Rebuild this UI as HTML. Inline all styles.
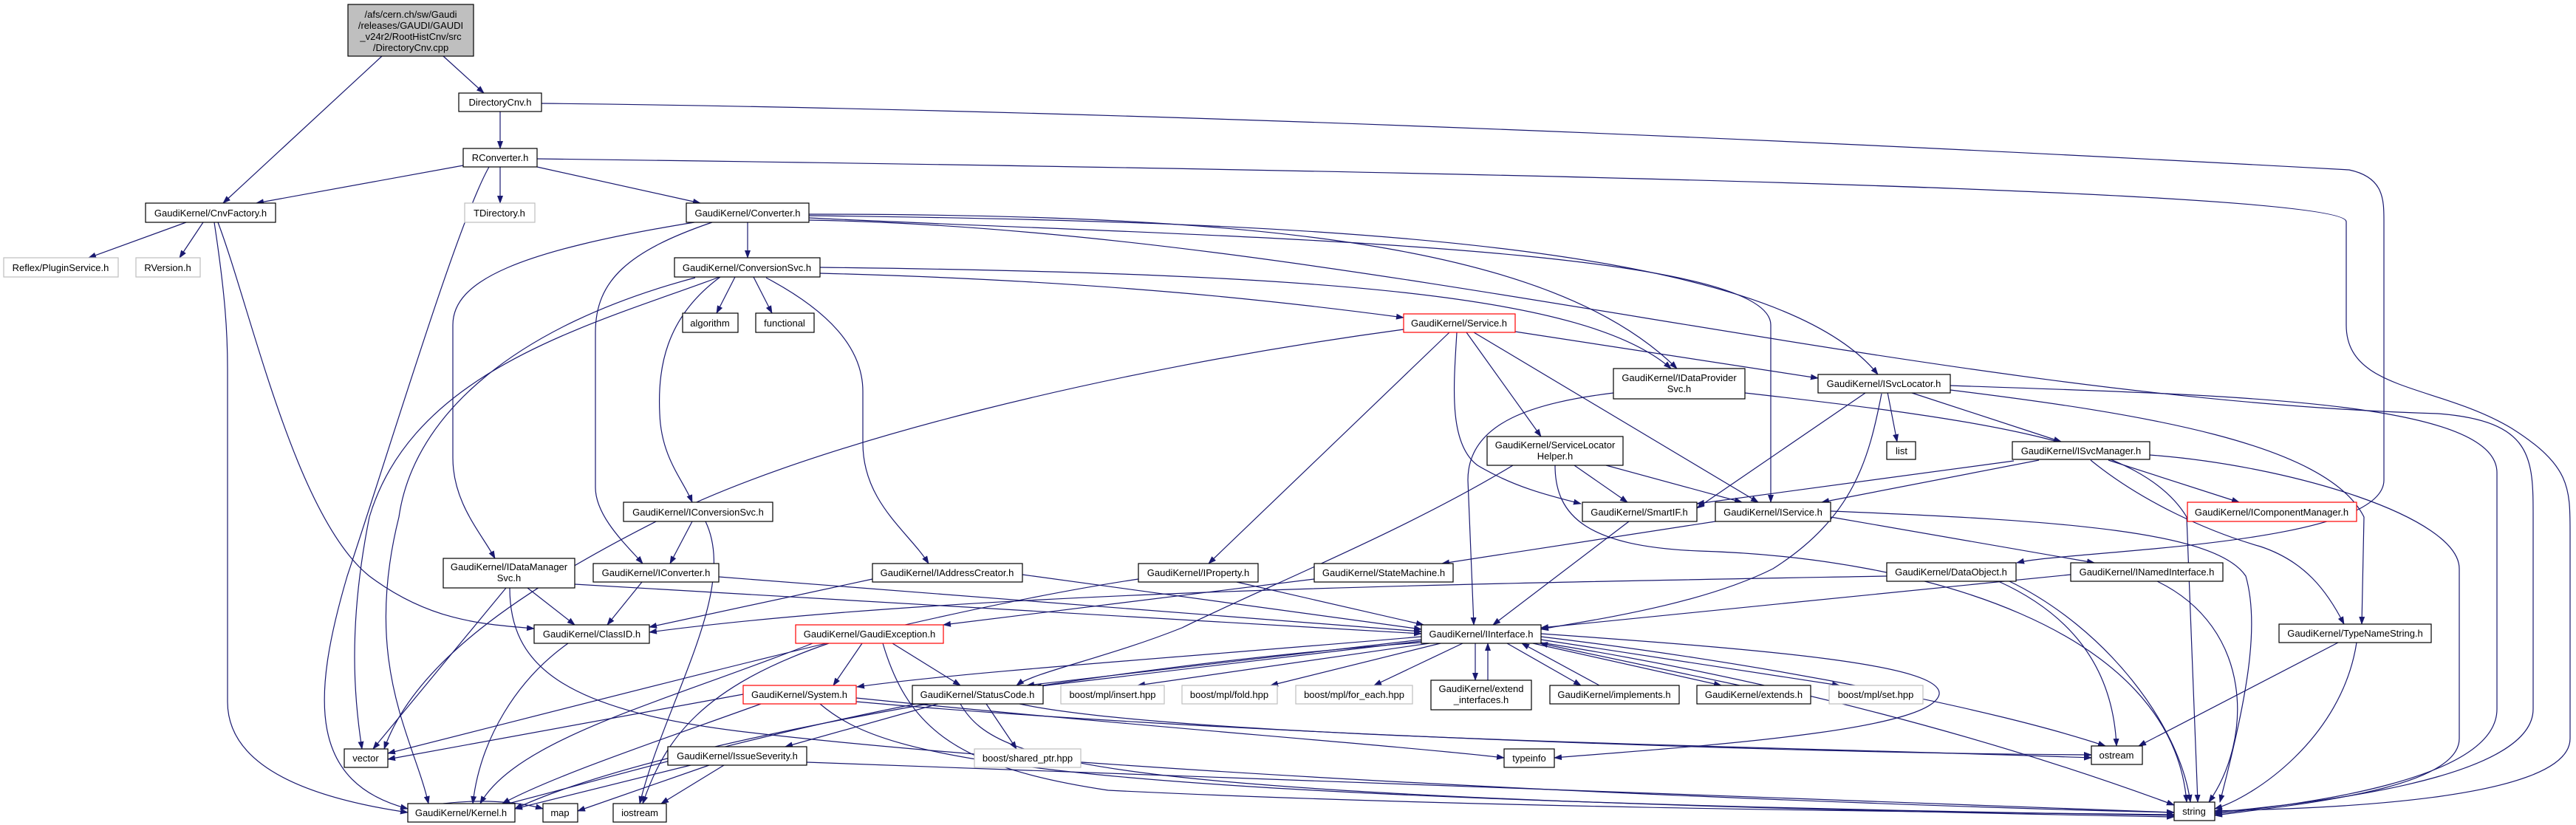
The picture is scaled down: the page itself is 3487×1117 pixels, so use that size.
<!DOCTYPE html>
<html><head><meta charset="utf-8"><style>
html,body{margin:0;padding:0;background:#fff;width:3487px;height:1117px;overflow:hidden}
svg text{font-family:"Liberation Sans",Arial,sans-serif;font-size:13px;text-anchor:middle;fill:#000}
</style></head><body>
<svg width="3487" height="1117" viewBox="0 0 3487 1117" xmlns="http://www.w3.org/2000/svg">
<defs><marker id="a" markerWidth="11" markerHeight="8" refX="10" refY="4" orient="auto" markerUnits="userSpaceOnUse"><path d="M0,0 L11,4 L0,8z" fill="#191970"/></marker></defs>
<g fill="none" stroke="#191970" stroke-width="1.2" marker-end="url(#a)">
<path d="M517,76 L302,275"/>
<path d="M600,76 L655,126"/>
<path d="M677,151 L677,201"/>
<path d="M733,140 C1200,145 2000,165 3180,230 C3227,240 3227,270 3227,300 L3227,650 C3227,740 2800,745 2730,762"/>
<path d="M727,215 C1500,225 3176,250 3176,300 L3176,440 C3176,530 3300,520 3400,580 C3479,630 3479,660 3479,720 L3479,1000 C3479,1090 3100,1095 2998,1098"/>
<path d="M627,224 L347,275"/>
<path d="M677,226 L677,275"/>
<path d="M727,226 L948,275"/>
<path d="M662,226 C620,300 530,600 470,780 C420,950 420,1060 552,1095"/>
<path d="M252,301 L120,349"/>
<path d="M275,301 L243,349"/>
<path d="M290,301 C305,400 308,450 308,500 L308,950 C308,1050 450,1085 552,1100"/>
<path d="M295,301 C340,420 400,700 500,780 C580,840 650,845 723,851"/>
<path d="M1012,301 L1012,349"/>
<path d="M940,301 C700,340 613,380 613,440 L613,620 C613,680 650,720 670,756"/>
<path d="M964,301 C850,340 806,380 806,450 L806,660 C806,700 850,740 870,763"/>
<path d="M1095,290 C1700,290 2100,330 2270,499"/>
<path d="M1095,295 C1600,320 2397,330 2397,440 L2397,680"/>
<path d="M1095,292 C1800,300 2400,330 2542,507"/>
<path d="M1095,298 C1800,310 2600,540 3300,560 C3429,570 3429,620 3429,700 L3429,960 C3429,1060 3100,1090 2998,1100"/>
<path d="M995,375 L970,424"/>
<path d="M1020,375 L1045,424"/>
<path d="M1110,370 C1500,380 1750,410 1900,430"/>
<path d="M1110,362 C1800,370 2150,400 2262,499"/>
<path d="M974,375 C800,440 560,500 500,700 C470,850 480,950 490,1014"/>
<path d="M941,376 C700,440 560,560 540,700 C490,900 560,1000 580,1088"/>
<path d="M975,375 C900,430 890,500 893,560 C895,620 925,650 937,680"/>
<path d="M1037,376 C1120,420 1168,470 1168,530 L1168,600 C1168,680 1230,720 1257,763"/>
<path d="M1900,446 C1500,500 1100,600 900,700 C700,800 560,900 520,1014"/>
<path d="M1962,450 L1636,763"/>
<path d="M1972,450 C1968,520 1960,600 2000,630 C2050,660 2100,672 2140,682"/>
<path d="M1985,450 L2086,591"/>
<path d="M1995,450 L2380,680"/>
<path d="M2051,449 L2461,512"/>
<path d="M2184,532 C2080,545 1987,570 1987,650 L1995,846"/>
<path d="M2362,532 C2700,570 2900,600 2960,700 L2975,1086"/>
<path d="M2555,531 L2568,598"/>
<path d="M2585,531 L2790,598"/>
<path d="M2525,532 L2297,688"/>
<path d="M2547,533 C2530,620 2510,700 2400,770 C2300,820 2150,840 2086,852"/>
<path d="M2640,528 C2900,560 3150,600 3200,700 L3197,845"/>
<path d="M2640,522 C3000,535 3380,540 3380,640 L3380,960 C3380,1060 3100,1090 2998,1102"/>
<path d="M2760,623 L2466,680"/>
<path d="M2726,624 L2297,682"/>
<path d="M2854,623 L3031,680"/>
<path d="M2830,623 C2900,680 2990,720 3060,740 C3120,760 3150,800 3173,845"/>
<path d="M2910,616 C3100,630 3329,700 3329,770 L3329,1000 C3329,1070 3100,1090 2998,1104"/>
<path d="M2131,630 L2203,680"/>
<path d="M2174,630 L2358,680"/>
<path d="M2048,630 C1900,720 1700,800 1600,850 C1500,890 1400,910 1376,928"/>
<path d="M2105,630 C2105,700 2150,740 2300,746 C2600,755 2940,850 2960,1086"/>
<path d="M2205,706 L2021,846"/>
<path d="M2322,706 L1952,763"/>
<path d="M2478,700 L2835,762"/>
<path d="M2478,692 C2800,705 3000,720 3040,780 C3060,850 3040,950 3005,1086"/>
<path d="M1779,784 L1277,846"/>
<path d="M1674,788 L1927,846"/>
<path d="M1541,784 C1300,820 1000,900 525,1020"/>
<path d="M1181,784 L879,849"/>
<path d="M2554,780 C2000,790 1300,800 879,856"/>
<path d="M1384,778 L1924,852"/>
<path d="M973,781 L1924,855"/>
<path d="M869,788 L822,846"/>
<path d="M714,796 L778,846"/>
<path d="M685,796 L505,1014"/>
<path d="M690,796 C690,900 760,960 1000,990 C1500,1050 2500,1090 2943,1100"/>
<path d="M778,791 L1924,858"/>
<path d="M937,706 L907,763"/>
<path d="M955,706 C1000,800 900,950 866,1088"/>
<path d="M769,871 C700,920 650,1000 640,1088"/>
<path d="M1167,871 L1128,928"/>
<path d="M1208,871 L1300,928"/>
<path d="M1100,871 C900,950 700,1000 650,1088"/>
<path d="M1122,871 C950,930 900,1000 870,1088"/>
<path d="M1195,871 C1230,990 1300,1040 1500,1070 C2000,1095 2700,1100 2943,1103"/>
<path d="M1924,862 C1600,890 1300,910 1160,930"/>
<path d="M1924,866 L1390,928"/>
<path d="M1924,868 L1400,930"/>
<path d="M1935,871 L1540,928"/>
<path d="M1950,871 L1720,928"/>
<path d="M1980,871 L1860,928"/>
<path d="M1997,871 L1997,921"/>
<path d="M2014,921 L2014,871"/>
<path d="M2040,871 L2140,928"/>
<path d="M2165,928 L2060,871"/>
<path d="M2075,871 L2330,928"/>
<path d="M2355,928 L2085,871"/>
<path d="M2086,866 L2490,928"/>
<path d="M2086,862 C2400,900 2700,960 2850,1010"/>
<path d="M2086,858 C2400,880 2630,900 2625,940 C2615,990 2300,1010 2104,1026"/>
<path d="M2086,870 C2400,920 2700,1000 2943,1090"/>
<path d="M1924,870 C1500,900 900,1000 697,1095"/>
<path d="M1006,940 L525,1028"/>
<path d="M1030,953 C900,1000 750,1050 680,1088"/>
<path d="M1159,945 C1500,980 1900,1010 2036,1026"/>
<path d="M1110,953 C1200,1030 1400,1080 2943,1104"/>
<path d="M1159,950 C1600,990 2400,1020 2831,1022"/>
<path d="M1270,953 L1063,1011"/>
<path d="M1335,953 L1376,1014"/>
<path d="M1240,953 C1000,1000 800,1060 680,1090"/>
<path d="M1380,953 C1600,1000 2400,1010 2831,1026"/>
<path d="M1300,953 C1350,1040 1500,1080 2943,1106"/>
<path d="M935,1036 L697,1095"/>
<path d="M960,1036 L782,1098"/>
<path d="M980,1036 L895,1088"/>
<path d="M1092,1032 L2943,1100"/>
<path d="M3165,870 L2895,1010"/>
<path d="M3190,870 C3170,1000 3050,1080 2998,1095"/>
<path d="M2705,787 C2800,830 2860,900 2865,1010"/>
<path d="M2720,787 C2850,850 2950,980 2965,1086"/>
<path d="M2803,778 L2086,850"/>
<path d="M2920,787 C3050,850 3050,1000 2990,1086"/>
<path d="M600,1088 C650,1082 700,1085 735,1095"/>
</g>
<g stroke-width="1.2" fill="#fff">
<rect x="471" y="6" width="170" height="70" fill="#bfbfbf" stroke="#000"/>
<rect x="621" y="126" width="112" height="25" stroke="#000"/>
<rect x="627" y="201" width="100" height="25" stroke="#000"/>
<rect x="197" y="275" width="176" height="26" stroke="#000"/>
<rect x="629" y="275" width="95" height="26" stroke="#bfbfbf"/>
<rect x="929" y="275" width="166" height="26" stroke="#000"/>
<rect x="5" y="349" width="155" height="26" stroke="#bfbfbf"/>
<rect x="184" y="349" width="87" height="26" stroke="#bfbfbf"/>
<rect x="913" y="349" width="197" height="26" stroke="#000"/>
<rect x="924" y="424" width="75" height="26" stroke="#000"/>
<rect x="1023" y="424" width="79" height="26" stroke="#000"/>
<rect x="1900" y="425" width="151" height="25" stroke="#ff0000"/>
<rect x="2184" y="499" width="178" height="41" stroke="#000"/>
<rect x="2461" y="507" width="179" height="25" stroke="#000"/>
<rect x="2554" y="598" width="39" height="24" stroke="#000"/>
<rect x="2724" y="598" width="186" height="24" stroke="#000"/>
<rect x="2013" y="591" width="184" height="39" stroke="#000"/>
<rect x="2142" y="680" width="155" height="26" stroke="#000"/>
<rect x="2322" y="680" width="156" height="26" stroke="#000"/>
<rect x="2961" y="680" width="229" height="26" stroke="#ff0000"/>
<rect x="844" y="680" width="202" height="26" stroke="#000"/>
<rect x="600" y="756" width="178" height="40" stroke="#000"/>
<rect x="803" y="763" width="170" height="25" stroke="#000"/>
<rect x="1181" y="763" width="203" height="25" stroke="#000"/>
<rect x="1541" y="763" width="162" height="25" stroke="#000"/>
<rect x="1779" y="763" width="188" height="25" stroke="#000"/>
<rect x="2554" y="762" width="175" height="25" stroke="#000"/>
<rect x="2803" y="762" width="206" height="25" stroke="#000"/>
<rect x="723" y="846" width="156" height="25" stroke="#000"/>
<rect x="1077" y="846" width="200" height="25" stroke="#ff0000"/>
<rect x="1924" y="846" width="162" height="25" stroke="#000"/>
<rect x="3085" y="845" width="206" height="25" stroke="#000"/>
<rect x="1006" y="928" width="153" height="25" stroke="#ff0000"/>
<rect x="1235" y="928" width="177" height="25" stroke="#000"/>
<rect x="1436" y="928" width="140" height="25" stroke="#bfbfbf"/>
<rect x="1600" y="928" width="129" height="25" stroke="#bfbfbf"/>
<rect x="1754" y="928" width="158" height="25" stroke="#bfbfbf"/>
<rect x="1937" y="921" width="136" height="40" stroke="#000"/>
<rect x="2098" y="928" width="175" height="25" stroke="#000"/>
<rect x="2297" y="928" width="154" height="25" stroke="#000"/>
<rect x="2476" y="928" width="127" height="25" stroke="#bfbfbf"/>
<rect x="904" y="1011" width="188" height="25" stroke="#000"/>
<rect x="466" y="1014" width="59" height="25" stroke="#000"/>
<rect x="1319" y="1014" width="144" height="25" stroke="#bfbfbf"/>
<rect x="2036" y="1014" width="68" height="25" stroke="#000"/>
<rect x="2831" y="1010" width="69" height="25" stroke="#000"/>
<rect x="552" y="1088" width="145" height="25" stroke="#000"/>
<rect x="735" y="1088" width="47" height="25" stroke="#000"/>
<rect x="830" y="1088" width="72" height="25" stroke="#000"/>
<rect x="2943" y="1086" width="55" height="25" stroke="#000"/>
</g>
<g>
<text x="556" y="24">/afs/cern.ch/sw/Gaudi</text>
<text x="556" y="39">/releases/GAUDI/GAUDI</text>
<text x="556" y="54">_v24r2/RootHistCnv/src</text>
<text x="556" y="69">/DirectoryCnv.cpp</text>
<text x="677" y="143">DirectoryCnv.h</text>
<text x="677" y="218">RConverter.h</text>
<text x="285" y="293">GaudiKernel/CnvFactory.h</text>
<text x="676" y="293">TDirectory.h</text>
<text x="1012" y="293">GaudiKernel/Converter.h</text>
<text x="82" y="367">Reflex/PluginService.h</text>
<text x="227" y="367">RVersion.h</text>
<text x="1011" y="367">GaudiKernel/ConversionSvc.h</text>
<text x="961" y="442">algorithm</text>
<text x="1062" y="442">functional</text>
<text x="1975" y="442">GaudiKernel/Service.h</text>
<text x="2273" y="516">GaudiKernel/IDataProvider</text>
<text x="2273" y="531">Svc.h</text>
<text x="2550" y="524">GaudiKernel/ISvcLocator.h</text>
<text x="2574" y="615">list</text>
<text x="2817" y="615">GaudiKernel/ISvcManager.h</text>
<text x="2105" y="607">GaudiKernel/ServiceLocator</text>
<text x="2105" y="622">Helper.h</text>
<text x="2219" y="698">GaudiKernel/SmartIF.h</text>
<text x="2400" y="698">GaudiKernel/IService.h</text>
<text x="3075" y="698">GaudiKernel/IComponentManager.h</text>
<text x="945" y="698">GaudiKernel/IConversionSvc.h</text>
<text x="689" y="772">GaudiKernel/IDataManager</text>
<text x="689" y="787">Svc.h</text>
<text x="888" y="780">GaudiKernel/IConverter.h</text>
<text x="1282" y="780">GaudiKernel/IAddressCreator.h</text>
<text x="1622" y="780">GaudiKernel/IProperty.h</text>
<text x="1873" y="780">GaudiKernel/StateMachine.h</text>
<text x="2641" y="779">GaudiKernel/DataObject.h</text>
<text x="2906" y="779">GaudiKernel/INamedInterface.h</text>
<text x="801" y="863">GaudiKernel/ClassID.h</text>
<text x="1177" y="863">GaudiKernel/GaudiException.h</text>
<text x="2005" y="863">GaudiKernel/IInterface.h</text>
<text x="3188" y="862">GaudiKernel/TypeNameString.h</text>
<text x="1082" y="945">GaudiKernel/System.h</text>
<text x="1323" y="945">GaudiKernel/StatusCode.h</text>
<text x="1506" y="945">boost/mpl/insert.hpp</text>
<text x="1664" y="945">boost/mpl/fold.hpp</text>
<text x="1833" y="945">boost/mpl/for_each.hpp</text>
<text x="2005" y="937">GaudiKernel/extend</text>
<text x="2005" y="952">_interfaces.h</text>
<text x="2185" y="945">GaudiKernel/implements.h</text>
<text x="2374" y="945">GaudiKernel/extends.h</text>
<text x="2539" y="945">boost/mpl/set.hpp</text>
<text x="998" y="1028">GaudiKernel/IssueSeverity.h</text>
<text x="495" y="1031">vector</text>
<text x="1391" y="1031">boost/shared_ptr.hpp</text>
<text x="2070" y="1031">typeinfo</text>
<text x="2865" y="1027">ostream</text>
<text x="624" y="1105">GaudiKernel/Kernel.h</text>
<text x="758" y="1105">map</text>
<text x="866" y="1105">iostream</text>
<text x="2970" y="1103">string</text>
</g>
</svg>
</body></html>
